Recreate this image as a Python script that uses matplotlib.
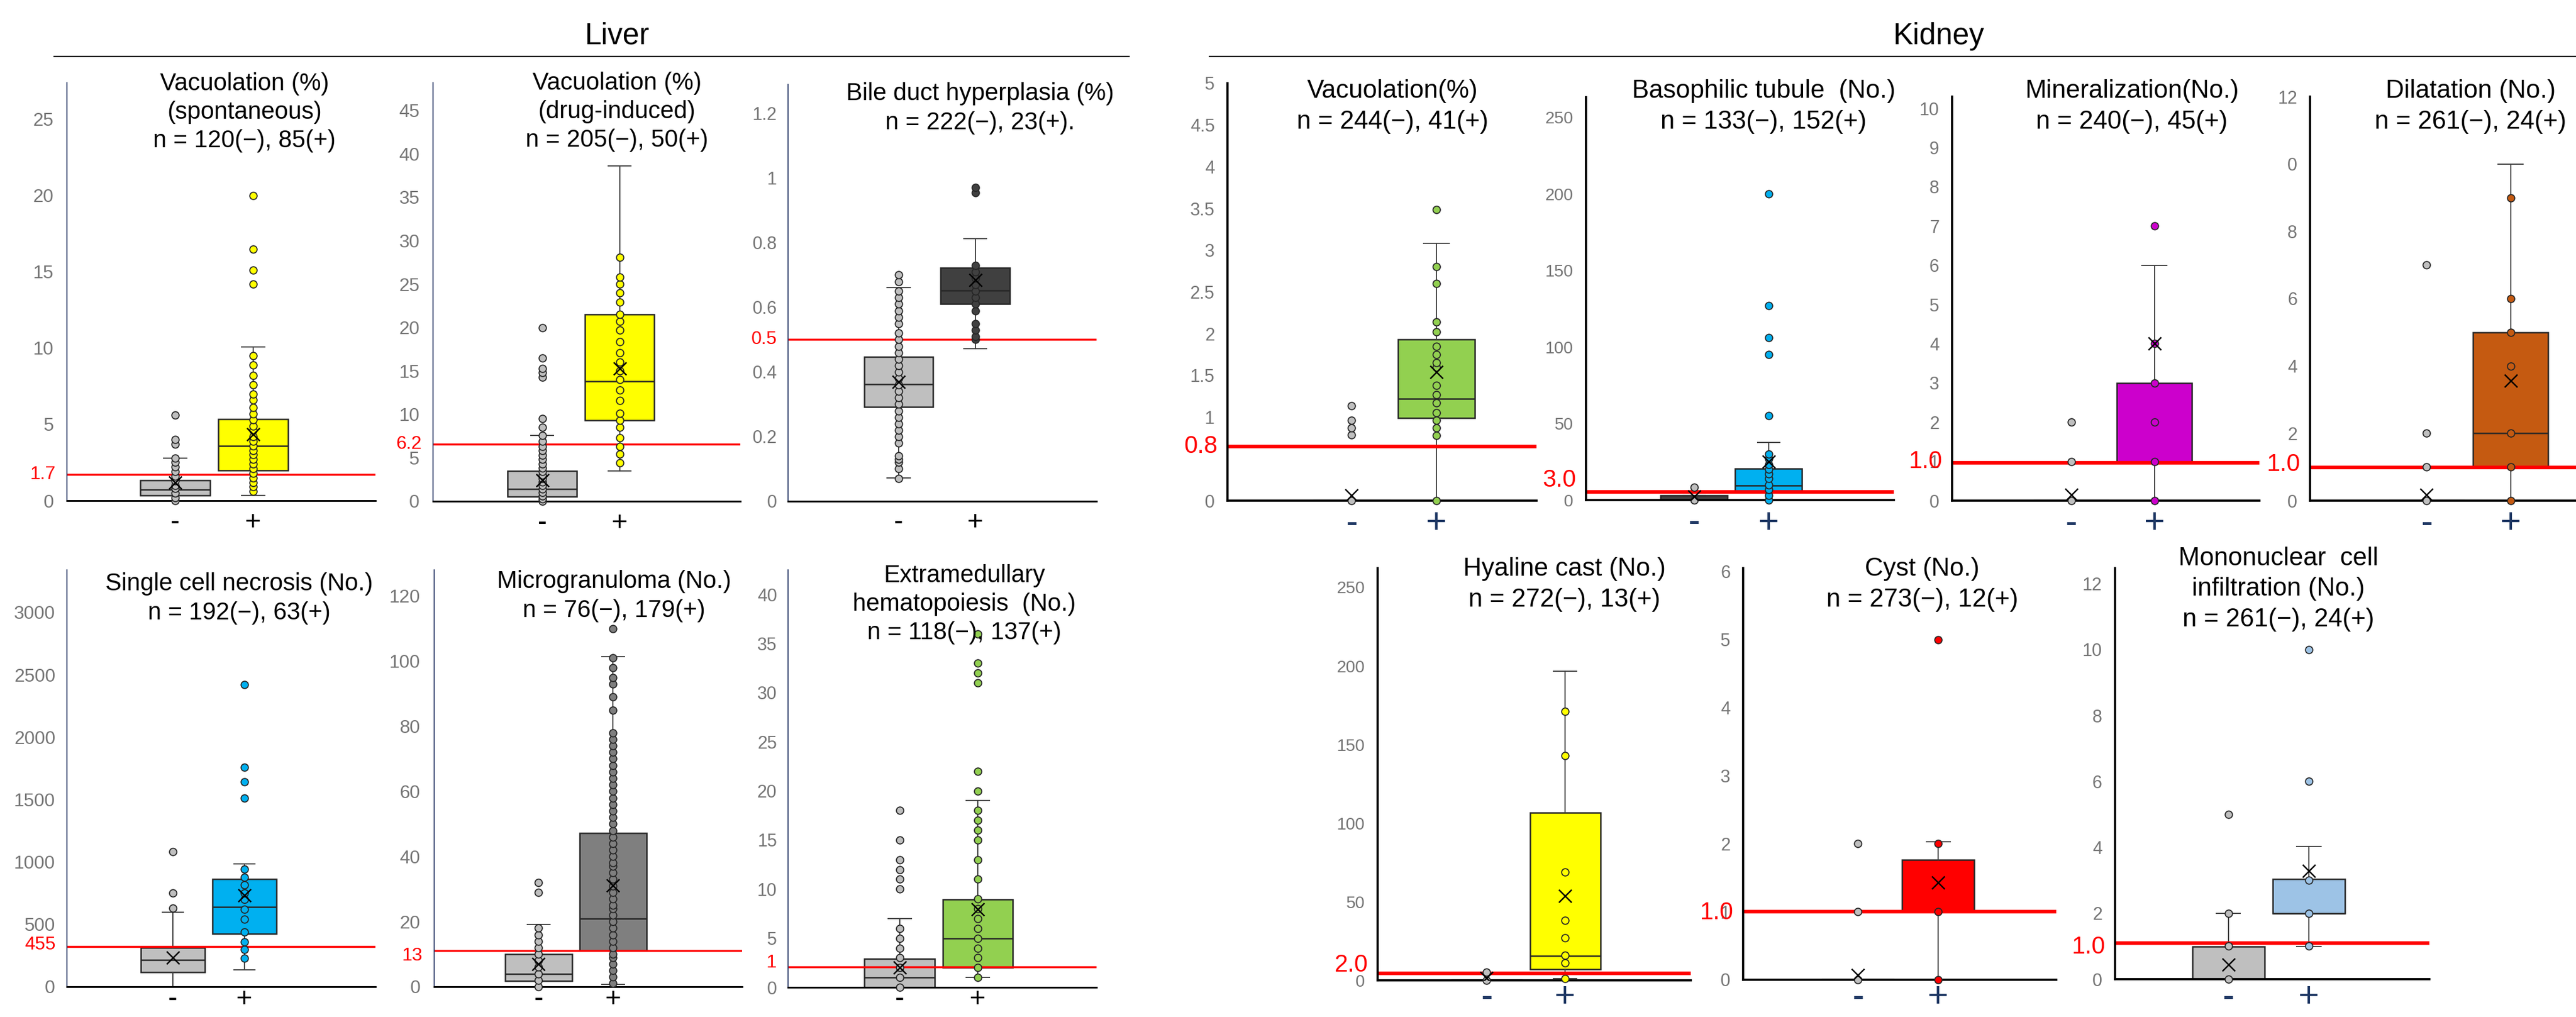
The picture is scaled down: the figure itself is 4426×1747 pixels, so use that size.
import matplotlib.pyplot as plt
from matplotlib.lines import Line2D

plt.rcParams['font.family'] = ['Liberation Sans', 'DejaVu Sans']

# ---------------- valores ----------------
# caixa: [bigode inferior, q1, mediana, q3, bigode superior, media]

# Liver - Vacuolation (spontaneous)
vac_sp_neg_box = [0, 0.36, 0.74, 1.34, 2.8, 1.17]
vac_sp_neg_pts = [0, 0.2, 0.5, 0.8, 1.0, 1.3, 1.6, 1.9, 2.2, 2.5, 2.8, 3.7, 4.0, 5.6]
vac_sp_pos_box = [0.36, 1.98, 3.6, 5.36, 10.06, 4.36]
vac_sp_pos_pts = [0.6, 0.9, 1.2, 1.5, 1.8, 2.1, 2.4, 2.7, 3.0, 3.3, 3.6, 3.9, 4.2, 4.6, 4.9,
                  5.3, 5.7, 6.1, 6.6, 7.0, 7.6, 8.2, 8.9, 9.5, 14.2, 15.1, 16.5, 20.0]

# Liver - Vacuolation (drug-induced)
vac_dr_neg_box = [0, 0.56, 1.39, 3.46, 7.6, 2.44]
vac_dr_neg_pts = [0, 0.3, 0.6, 1.0, 1.4, 1.8, 2.2, 2.6, 3.0, 3.4, 3.8, 4.3, 4.8, 5.3, 5.8,
                  6.3, 6.9, 7.6, 8.5, 9.5, 14.3, 14.8, 15.3, 16.5, 20.0]
vac_dr_pos_box = [3.46, 9.3, 13.8, 21.5, 38.6, 15.3]
vac_dr_pos_pts = [4.4, 5.4, 6.3, 7.3, 8.5, 9.3, 10.1, 11.6, 12.8, 14.0, 15.0, 16.0, 17.1,
                  18.4, 19.7, 20.7, 21.5, 22.9, 24.0, 25.0, 25.8, 28.1]

# Liver - Bile duct hyperplasia
bile_neg_box = [0.072, 0.291, 0.362, 0.447, 0.662, 0.369]
bile_neg_pts = [0.07, 0.10, 0.12, 0.13, 0.14, 0.18, 0.20, 0.22, 0.24, 0.26, 0.28, 0.30, 0.32,
                0.34, 0.36, 0.38, 0.40, 0.42, 0.44, 0.46, 0.48, 0.50, 0.52, 0.55, 0.57, 0.59,
                0.61, 0.63, 0.65, 0.68, 0.70]
bile_pos_box = [0.472, 0.61, 0.653, 0.723, 0.812, 0.684]
bile_pos_pts = [0.50, 0.51, 0.53, 0.55, 0.59, 0.61, 0.63, 0.65, 0.67, 0.69, 0.71, 0.73, 0.955, 0.972]

# Liver - Single cell necrosis
scn_neg_box = [0, 115, 214, 314, 599, 233]
scn_neg_pts = [630, 750, 1080]
scn_pos_box = [136, 424, 641, 863, 986, 732]
scn_pos_pts = [230, 300, 360, 440, 540, 620, 700, 750, 815, 875, 940, 1510, 1640, 1760, 2420]

# Liver - Microgranuloma
mg_neg_box = [0, 1.8, 4.0, 10.0, 19.1, 7.0]
mg_neg_pts = [0, 2, 4, 6, 8, 10, 12, 14, 16, 18, 29, 32]
mg_pos_box = [0.8, 11.0, 20.9, 47.2, 101.3, 31.1]
mg_pos_pts = [1, 3, 5, 7, 9, 10, 12, 14, 16, 18, 20, 22, 24, 25, 27, 29, 31, 33, 35, 37, 38,
              40, 42, 44, 46, 48, 50, 52, 54, 56, 58, 60, 62, 64, 66, 68, 70, 72, 74, 76, 78,
              85, 89, 93, 95, 98, 101, 110]

# Liver - Extramedullary hematopoiesis
emh_neg_box = [0, 0, 1.0, 2.92, 6.97, 2.0]
emh_neg_pts = [0, 1, 2, 3, 4, 5, 6, 10, 11, 12, 13, 15, 18]
emh_pos_box = [1.0, 1.99, 4.98, 8.96, 19.0, 7.97]
emh_pos_pts = [1, 2, 3, 4, 5, 6, 7, 8, 9, 11, 13, 15, 16, 17, 18, 20, 22, 31, 32, 33, 36]

# Kidney - Vacuolation
kvac_neg_box = [0, 0, 0, 0, 0, 0.06]
kvac_neg_pts = [0, 0.79, 0.87, 0.96, 1.14]
kvac_pos_box = [0, 0.99, 1.22, 1.935, 3.08, 1.54]
kvac_pos_pts = [0, 0.78, 0.87, 0.96, 1.05, 1.17, 1.27, 1.38, 1.6, 1.65, 1.75, 1.85, 2.02,
                2.14, 2.6, 2.8, 3.49]

# Kidney - Basophilic tubule
baso_neg_box = [0, 0, 0, 3.0, 3.0, 2.1]
baso_neg_pts = [0, 8.4]
baso_pos_box = [0, 5.7, 9.5, 20.5, 37.8, 25.1]
baso_pos_pts = [0, 3, 7, 10, 14, 17, 20, 23, 27, 30, 55, 95, 106, 127, 200]

# Kidney - Mineralization
mine_neg_box = [0, 0, 0, 0, 0, 0.15]
mine_neg_pts = [0, 1, 2]
mine_pos_box = [0, 1.0, 1.0, 3.0, 6.0, 4.0]
mine_pos_pts = [0, 1, 2, 3, 4, 7]

# Kidney - Dilatation
dil_neg_box = [0, 0, 0, 0, 0, 0.17]
dil_neg_pts = [0, 1, 2, 7]
dil_pos_box = [0, 1.0, 2.0, 5.0, 10.0, 3.57]
dil_pos_pts = [0, 1, 2, 4, 5, 6, 9]

# Kidney - Hyaline cast
hya_neg_box = [0, 0, 0, 0, 0, 1.5]
hya_neg_pts = [0, 5]
hya_pos_box = [1.0, 7.1, 15.4, 106.7, 196.6, 53.8]
hya_pos_pts = [1, 11, 16, 27, 38, 69, 143, 171]

# Kidney - Cyst
cyst_neg_box = [0, 0, 0, 0, 0, 0.07]
cyst_neg_pts = [0, 1, 2]
cyst_pos_box = [0, 1.0, 1.0, 1.76, 2.03, 1.43]
cyst_pos_pts = [0, 1, 2, 5]

# Kidney - Mononuclear cell infiltration
mono_neg_box = [0, 0, 0, 0.99, 2.0, 0.45]
mono_neg_pts = [0, 1, 2, 5]
mono_pos_box = [0.99, 2.0, 2.0, 3.04, 4.03, 3.29]
mono_pos_pts = [1, 2, 3, 6, 10]

titles = [
    'Vacuolation (%)\n(spontaneous)\nn = 120(\u2212), 85(+)',
    'Vacuolation (%)\n(drug-induced)\nn = 205(\u2212), 50(+)',
    'Bile duct hyperplasia (%)\nn = 222(\u2212), 23(+).',
    'Single cell necrosis (No.)\nn = 192(\u2212), 63(+)',
    'Microgranuloma (No.)\nn = 76(\u2212), 179(+)',
    'Extramedullary\nhematopoiesis  (No.)\nn = 118(\u2212), 137(+)',
    'Vacuolation(%)\nn = 244(\u2212), 41(+)',
    'Basophilic tubule  (No.)\nn = 133(\u2212), 152(+)',
    'Mineralization(No.)\nn = 240(\u2212), 45(+)',
    'Dilatation (No.)\nn = 261(\u2212), 24(+)',
    'Hyaline cast (No.)\nn = 272(\u2212), 13(+)',
    'Cyst (No.)\nn = 273(\u2212), 12(+)',
    'Mononuclear  cell\ninfiltration (No.)\nn = 261(\u2212), 24(+)',
]

# linha de corte (posicao desenhada) e o texto vermelho
cut_lines = [1.7, 6.6, 0.5, 320, 11, 2.1, 0.65, 5.3, 0.97, 0.98, 4.6, 1.0, 1.09]
cut_labels = ['1.7', '6.2', '0.5', '455', '13', '1', '0.8', '3.0', '1.0', '1.0', '2.0', '1.0', '1.0']

yticks = [
    [0, 5, 10, 15, 20, 25],
    [0, 5, 10, 15, 20, 25, 30, 35, 40, 45],
    [0, 0.2, 0.4, 0.6, 0.8, 1.0, 1.2],
    [0, 500, 1000, 1500, 2000, 2500, 3000],
    [0, 20, 40, 60, 80, 100, 120],
    [0, 5, 10, 15, 20, 25, 30, 35, 40],
    [0, 1, 1.5, 2, 2.5, 3, 3.5, 4, 4.5, 5],
    [0, 50, 100, 150, 200, 250],
    [0, 1, 2, 3, 4, 5, 6, 7, 8, 9, 10],
    [0, 2, 4, 6, 8, 10, 12],
    [0, 50, 100, 150, 200, 250],
    [0, 1, 2, 3, 4, 5, 6],
    [0, 2, 4, 6, 8, 10, 12],
]
ytick_labels = [
    None, None, ['0', '0.2', '0.4', '0.6', '0.8', '1', '1.2'], None, None, None,
    ['0', '1', '1.5', '2', '2.5', '3', '3.5', '4', '4.5', '5'], None, None,
    ['0', '2', '4', '6', '8', '0', '12'], None, None, None,
]

neg_boxes = [vac_sp_neg_box, vac_dr_neg_box, bile_neg_box, scn_neg_box, mg_neg_box, emh_neg_box,
             kvac_neg_box, baso_neg_box, mine_neg_box, dil_neg_box, hya_neg_box, cyst_neg_box, mono_neg_box]
neg_points = [vac_sp_neg_pts, vac_dr_neg_pts, bile_neg_pts, scn_neg_pts, mg_neg_pts, emh_neg_pts,
              kvac_neg_pts, baso_neg_pts, mine_neg_pts, dil_neg_pts, hya_neg_pts, cyst_neg_pts, mono_neg_pts]
pos_boxes = [vac_sp_pos_box, vac_dr_pos_box, bile_pos_box, scn_pos_box, mg_pos_box, emh_pos_box,
             kvac_pos_box, baso_pos_box, mine_pos_box, dil_pos_box, hya_pos_box, cyst_pos_box, mono_pos_box]
pos_points = [vac_sp_pos_pts, vac_dr_pos_pts, bile_pos_pts, scn_pos_pts, mg_pos_pts, emh_pos_pts,
              kvac_pos_pts, baso_pos_pts, mine_pos_pts, dil_pos_pts, hya_pos_pts, cyst_pos_pts, mono_pos_pts]

# ---------------- layout (pixels da imagem final) ----------------
W, H = 4426, 1747
GRAY = '#BFBFBF'

layout = [
    dict(px=(115, 645, 142, 860), xlim=(-0.39, 3.57), ylim=(0, 27.4), title=(420, 193), kid=False,
         color='#FFFF00', lab_y=1.7, xoff=38, tsize=23, tpad=23),
    dict(px=(744, 1272, 142, 861), xlim=(-0.41, 3.56), ylim=(0, 48.2), title=(1060, 192), kid=False,
         color='#FFFF00', lab_y=6.6, xoff=38, tsize=23, tpad=23),
    dict(px=(1354, 1884, 145, 861), xlim=(-0.44, 3.58), ylim=(0, 1.29), title=(1684, 186), kid=False,
         color='#404040', lab_y=0.5, xoff=37, tsize=22, tpad=19),
    dict(px=(115, 645, 979, 1695), xlim=(-0.48, 3.83), ylim=(0, 3340), title=(411, 1028), kid=False,
         color='#00B0F0', lab_y=337, xoff=22, tsize=23, tpad=20),
    dict(px=(746, 1275, 979, 1695), xlim=(-0.40, 3.73), ylim=(0, 128), title=(1055, 1024), kid=False,
         color='#7F7F7F', lab_y=9.5, xoff=22, tsize=23, tpad=24),
    dict(px=(1354, 1884, 979, 1696), xlim=(-0.43, 3.52), ylim=(0, 42.5), title=(1657, 1038), kid=False,
         color='#92D050', lab_y=2.5, xoff=21, tsize=22, tpad=19),
    dict(px=(2109, 2640, 143, 860), xlim=(-0.46, 3.18), ylim=(0, 5.0), title=(2393, 183), kid=True,
         color='#92D050', lab_y=0.65, xoff=40, tsize=22, tpad=22, neg_edge='#D0D0D0'),
    dict(px=(2725, 3254, 167, 859), xlim=(-0.45, 3.68), ylim=(0, 263), title=(3030, 183), kid=True,
         color='#00B0F0', lab_y=13, xoff=40, tsize=21, tpad=22, neg_color='#404040'),
    dict(px=(3354, 3882, 166, 860), xlim=(-0.43, 3.26), ylim=(0, 10.3), title=(3663, 183), kid=True,
         color='#CC00CC', lab_y=0.99, xoff=40, tsize=22, tpad=22, neg_edge='#D0D0D0'),
    dict(px=(3969, 4426, 166, 860), xlim=(-0.39, 2.78), ylim=(0, 11.92), title=(4245, 183), kid=True,
         color='#C55A11', lab_y=1.08, xoff=40, tsize=22, tpad=22, neg_edge='#D0D0D0'),
    dict(px=(2367, 2905, 976, 1684), xlim=(-0.39, 3.6), ylim=(0, 262), title=(2688, 1004), kid=True,
         color='#FFFF00', lab_y=9.8, xoff=30, tsize=21, tpad=22, neg_edge='#404040'),
    dict(px=(2995, 3533, 976, 1683), xlim=(-0.43, 3.47), ylim=(0, 6.05), title=(3303, 1004), kid=True,
         color='#FF0000', lab_y=0.98, xoff=31, tsize=22, tpad=22, neg_edge='#262626'),
    dict(px=(3634, 4174, 976, 1682), xlim=(-0.41, 3.5), ylim=(0, 12.47), title=(3915, 1012), kid=True,
         color='#9DC3E6', lab_y=0.97, xoff=32, tsize=22, tpad=22),
]


def box_dict(v):
    return dict(whislo=v[0], q1=v[1], med=v[2], q3=v[3], whishi=v[4], mean=v[5], fliers=[])


fig = plt.figure(figsize=(W / 100, H / 100), dpi=100)

# cabecalhos
fig.text(1060 / W, 1 - 76 / H, 'Liver', ha='center', va='baseline', fontsize=37)
fig.text(3331 / W, 1 - 76 / H, 'Kidney', ha='center', va='baseline', fontsize=37)
fig.add_artist(Line2D([93 / W, 1940 / W], [1 - 97 / H] * 2, color='black', lw=1.6))
fig.add_artist(Line2D([2078 / W, 1.0], [1 - 97 / H] * 2, color='black', lw=1.6))

for i, lay in enumerate(layout):
    x0, x1, yt, yb = lay['px']
    kid = lay['kid']
    ax = fig.add_axes([x0 / W, 1 - yb / H, (x1 - x0) / W, (yb - yt) / H])
    ax.patch.set_alpha(0)

    neg_c = lay.get('neg_color', GRAY)
    bp = ax.bxp([box_dict(neg_boxes[i]), box_dict(pos_boxes[i])], positions=[1, 2], widths=0.9,
                capwidths=0.3, patch_artist=True, showmeans=True, showfliers=False,
                boxprops=dict(edgecolor='#262626', linewidth=1.8),
                medianprops=dict(color='#262626', linewidth=1.8),
                whiskerprops=dict(color='#404040', linewidth=1.4),
                capprops=dict(color='#404040', linewidth=1.4),
                meanprops=dict(marker='x', markersize=16, markeredgecolor='black',
                               markeredgewidth=1.8, zorder=6))
    bp['boxes'][0].set_facecolor(neg_c)
    bp['boxes'][1].set_facecolor(lay['color'])
    if 'neg_edge' in lay:
        e = lay['neg_edge']
        bp['boxes'][0].set_edgecolor(e)
        bp['boxes'][0].set_linewidth(3.5)
        bp['medians'][0].set_color(e)
        bp['medians'][0].set_linewidth(3.5)
        for c in bp['caps'][:2]:
            c.set_visible(False)

    ax.scatter([1] * len(neg_points[i]), neg_points[i], s=82, color=GRAY,
               edgecolors='#262626', linewidths=1.3, zorder=4, clip_on=False)
    ax.scatter([2] * len(pos_points[i]), pos_points[i], s=82, color=lay['color'],
               edgecolors='#262626', linewidths=1.3, zorder=4, clip_on=False)

    ax.axhline(cut_lines[i], color='#FF0000', lw=4.5 if kid else 2.5, zorder=2.5)

    ax.set_xlim(*lay['xlim'])
    ax.set_ylim(*lay['ylim'])
    ax.set_xticks([])
    if ytick_labels[i] is None:
        ax.set_yticks(yticks[i])
    else:
        ax.set_yticks(yticks[i], ytick_labels[i])
    ax.tick_params(axis='y', length=0, pad=lay['tpad'] * 0.72, labelsize=lay['tsize'],
                   labelcolor='#767676')

    ax.annotate(cut_labels[i], xy=(0, lay['lab_y']), xycoords=('axes fraction', 'data'),
                xytext=(-(12 if kid else 14), 0), textcoords='offset points',
                ha='right', va='center', color='#FF0000', fontsize=30 if kid else 23,
                annotation_clip=False)

    for pos, s in zip([1, 2], ['-', '+']):
        ax.annotate(s, xy=(pos, 0), xycoords=('data', 'axes fraction'),
                    xytext=(0, -lay['xoff'] * 0.72), textcoords='offset points',
                    ha='center', va='center', fontsize=44 if kid else 34,
                    color='#1F3864' if kid else 'black', annotation_clip=False)

    for side in ['top', 'right']:
        ax.spines[side].set_visible(False)
    if kid:
        ax.spines['left'].set_color('black')
        ax.spines['left'].set_linewidth(2.7)
        ax.spines['bottom'].set_linewidth(2.7)
    else:
        ax.spines['left'].set_color('#2F3F6B')
        ax.spines['left'].set_linewidth(1.3)
        ax.spines['bottom'].set_linewidth(2.2)

    tx, ty = lay['title']
    fig.text(tx / W, 1 - ty / H, titles[i], ha='center', va='center', multialignment='center',
             fontsize=31.5 if kid else 30, linespacing=1.37 if kid else 1.3)

fig.savefig('out.png', dpi=100)
